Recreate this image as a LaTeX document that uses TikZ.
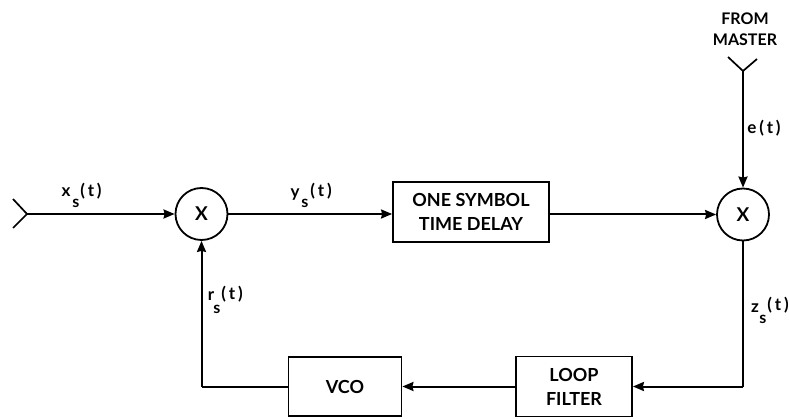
\documentclass[tikz,border=0pt]{standalone}
\usepackage{fontspec}
\setmainfont{Lato}
\usetikzlibrary{arrows.meta}
\tikzset{
  px/.style={x=1pt,y=-1pt},
  blockbox/.style={draw,line width=1.8pt,minimum width=#1,minimum height=59pt,inner sep=0pt,align=center,font=\fontsize{18}{24}\selectfont\bfseries},
  mixer/.style={draw,circle,line width=1.8pt,minimum size=52pt,inner sep=0pt,font=\fontsize{19}{19}\selectfont\bfseries},
  wire/.style={line width=2pt,-{Stealth[length=11pt,width=9pt,inset=1pt]}},
  plainwire/.style={line width=2pt},
  lab/.style={inner sep=0pt,font=\fontsize{17}{17}\selectfont\bfseries},
  sub/.style={inner sep=0pt,font=\fontsize{16}{16}\selectfont\bfseries},
  antenna/.style={line width=1.7pt}
}
\begin{document}
\begin{tikzpicture}[px]
\useasboundingbox (0,0) rectangle (789,419);
\node[mixer] (m1) at (201.5,214) {X};
\node[mixer] (m2) at (743,214.5) {X};
\node[blockbox=156pt,minimum height=60pt] (delay) at (471,212) {ONE SYMBOL\\TIME DELAY};
\node[blockbox=113pt] (vco) at (345,386.5) {VCO};
\node[blockbox=116pt,minimum height=60pt] (filter) at (574,386.5) {LOOP\\FILTER};
\coordinate (ant1) at (27,214);
\coordinate (ant2) at (743,71);
\coordinate (corner1) at (743,386.5);
\coordinate (corner2) at (201.5,386.5);
\coordinate (dl) at (delay.west |- m1.center);
\coordinate (dr) at (delay.east |- m2.center);
\draw[antenna] (13,199) -- (ant1) -- (13,228);
\draw[antenna] (728,57) -- (ant2) -- (757,59);
\draw[wire] (ant1) -- (m1.west);
\draw[wire] (m1.east) -- (dl);
\draw[wire] (dr) -- (m2.west);
\draw[wire] (ant2) -- (m2.north);
\draw[plainwire] (m2.south) -- (corner1);
\draw[wire] (corner1) -- (filter.east);
\draw[wire] (filter.west) -- (vco.east);
\draw[plainwire] (vco.west) -- (corner2);
\draw[wire] (corner2) -- (m1.south);
\node[lab,align=center,font=\fontsize{16}{21.5}\selectfont\bfseries] (from) at (745,29) {FROM\\MASTER};
\node[lab] (lx) at (66,192) {x};
\node[sub] (lxs) at (76,203) {s};
\node[lab] (lxt) at (91,191) {(\,t\,)};
\node[lab] (ly) at (295,195) {y};
\node[sub] (lys) at (305,203) {s};
\node[lab] (lyt) at (321,191) {(\,t\,)};
\node[lab] (le) at (764,128) {e\,(\,t\,)};
\node[lab] (lr) at (211,296) {r};
\node[sub] (lrs) at (217,309) {s};
\node[lab] (lrt) at (232,294) {(\,t\,)};
\node[lab] (lz) at (755,308) {z};
\node[sub] (lzs) at (763,319) {s};
\node[lab] (lzt) at (778,305) {(\,t\,)};
\end{tikzpicture}
\end{document}
